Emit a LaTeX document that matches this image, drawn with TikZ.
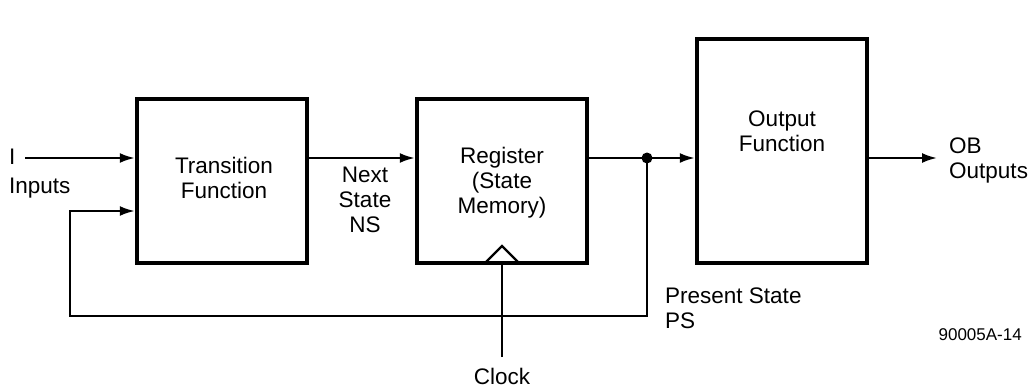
\documentclass[tikz,border=0pt]{standalone}
\usepackage{fontspec}
\setmainfont{Liberation Sans}
\usetikzlibrary{arrows.meta}

\tikzset{
  block/.style={draw, line width=4.5pt, minimum width=#1},
  sig/.style={line width=2.2pt, -{Latex[length=15pt,width=10pt]}},
  wire/.style={line width=2.2pt},
  lbl/.style={font=\fontsize{22.5}{25}\selectfont, align=center, inner sep=0pt}
}

\begin{document}
\begin{tikzpicture}[x=1pt,y=-1pt]
\useasboundingbox (0,0) rectangle (1034,389);

% Blocks
\node[block=170pt, minimum height=164pt] (trans) at (222,181) {};
\node[block=170pt, minimum height=164pt] (reg) at (502,181) {};
\node[block=170pt, minimum height=224pt] (outf) at (782,151) {};

\node[lbl] (transtxt) at (224,178) {Transition\\Function};
\node[lbl] (regtxt) at (502,183) {Register\\(State\\Memory)};
\node[lbl] (outtxt) at (782,131) {Output\\Function};

% Signal coordinates
\coordinate (in) at (25,158);
\coordinate (dot) at (647,158);
\coordinate (out) at (937,158);
\coordinate (fbl) at (70,316);
\coordinate (fbr) at (647,316);
\coordinate (clk) at (502,357);

% Forward path
\draw[sig] (in) -- (in -| trans.west);
\draw[sig] (trans.east |- in) -- (reg.west |- in);
\draw[wire] (reg.east |- in) -- (dot);
\draw[sig] (dot) -- (outf.west |- in);
\draw[sig] (outf.east |- in) -- (out);
\fill (dot) circle (5.5pt);

% Feedback
\draw[sig] (dot) -- (fbr) -- (fbl) -- (70,211) -- (trans.west |- 0,211);

% Clock
\draw[wire] (clk) -- (reg.south);
\draw[wire] (485,263) -- (502,246) -- (519,263);

% Labels
\node[lbl, anchor=west] (ilbl) at (9,157) {I};
\node[lbl, anchor=west] (inlbl) at (9,188) {Inputs};
\node[lbl] (nslbl) at (365,200) {Next\\State\\NS};
\node[lbl, anchor=west, align=left] (oblbl) at (949,160) {OB\\Outputs};
\node[lbl, anchor=west, align=left] (pslbl) at (665,308) {Present State\\PS};
\node[lbl] (clklbl) at (502,376) {Clock};
\node[lbl, anchor=east, font=\fontsize{17}{20}\selectfont] (figno) at (1022,335) {90005A-14};
\end{tikzpicture}
\end{document}
